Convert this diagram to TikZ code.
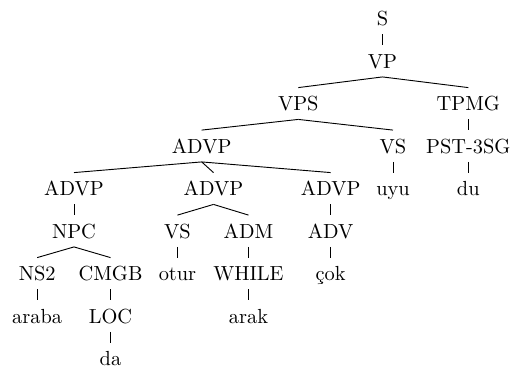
\documentclass[tikz,border=0pt]{standalone}
\usepackage{fontspec}
\begin{document}
\begin{tikzpicture}[x=0.4902pt,y=-0.4902pt,
  tnode/.style={inner sep=0pt,anchor=base,text height=11.03pt,text depth=4.17pt},
  branch/.style={line width=0.45pt}]
\useasboundingbox (0,0) rectangle (510,369);
% labels, placed by baseline
\node[tnode] (S)     at (382.5,25.5) {S};
\node[tnode] (VP)    at (382.5,68)   {VP};
\node[tnode] (VPS)   at (298.3,110.5) {VPS};
\node[tnode] (TPMG)  at (468.3,110.5) {TPMG};
\node[tnode] (ADVPa) at (201.7,153)  {ADVP};
\node[tnode] (VSa)   at (393,153)    {VS};
\node[tnode] (PST)   at (468.3,153)  {PST-3SG};
\node[tnode] (ADVPb) at (74,195.5)   {ADVP};
\node[tnode] (ADVPc) at (213.5,195.5) {ADVP};
\node[tnode] (ADVPd) at (330.7,195.5) {ADVP};
\node[tnode] (uyu)   at (393,195.5)  {uyu};
\node[tnode] (du)    at (468.3,195.5) {du};
\node[tnode] (NPC)   at (74,238)     {NPC};
\node[tnode] (VSb)   at (177.5,238)  {VS};
\node[tnode] (ADM)   at (248.5,238)  {ADM};
\node[tnode] (ADV)   at (330.7,238)  {ADV};
\node[tnode] (NS2)   at (37.2,280.5) {NS2};
\node[tnode] (CMGB)  at (110.5,280.5) {CMGB};
\node[tnode] (otur)  at (177.5,280.5) {otur};
\node[tnode] (WHILE) at (248.5,280.5) {WHILE};
\node[tnode] (cok)   at (330.7,280.5) {çok};
\node[tnode] (araba) at (37.2,323)   {araba};
\node[tnode] (LOC)   at (110.5,323)  {LOC};
\node[tnode] (arak)  at (248.5,323)  {arak};
\node[tnode] (da)    at (110.5,365.5) {da};
% branches from parent to child
\foreach \p/\c in {S/VP, VP/VPS, VP/TPMG, VPS/ADVPa, VPS/VSa, TPMG/PST,
    ADVPa/ADVPb, ADVPa/ADVPc, ADVPa/ADVPd, VSa/uyu, PST/du,
    ADVPb/NPC, ADVPc/VSb, ADVPc/ADM, ADVPd/ADV,
    NPC/NS2, NPC/CMGB, VSb/otur, ADM/WHILE, ADV/cok,
    NS2/araba, CMGB/LOC, WHILE/arak, LOC/da}
  \draw[branch] (\p.south) -- (\c.north);
\end{tikzpicture}
\end{document}
